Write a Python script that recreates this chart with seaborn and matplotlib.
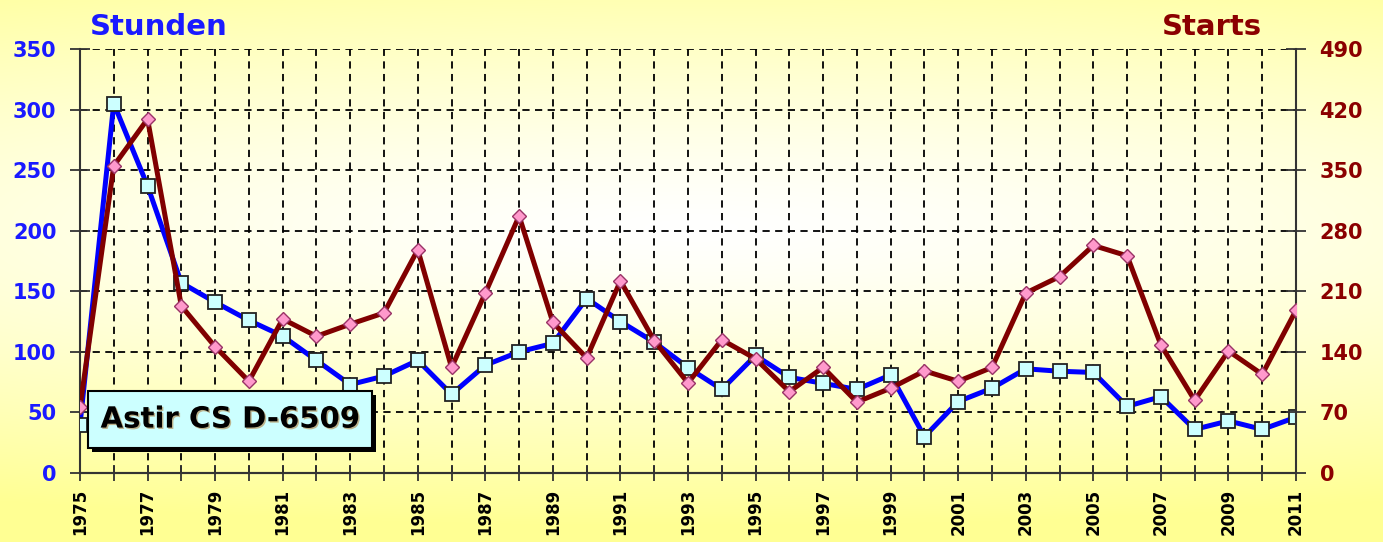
import numpy as np
import matplotlib
matplotlib.use("Agg")
import matplotlib.pyplot as plt
from matplotlib.patches import Rectangle
import matplotlib.patheffects as pe
import seaborn as sns

# Flight statistics per year
years = list(range(1975, 2012))
stunden = [40, 305, 237, 157, 141, 126, 113, 93, 73, 80, 93, 65, 89, 100, 107,
           144, 125, 108, 87, 69, 97, 79, 74, 69, 81, 30, 59, 70, 86, 84, 83,
           55, 63, 36, 43, 36, 46]
starts = [76, 355, 409, 193, 146, 106, 178, 158, 172, 185, 258, 122, 208, 297,
          174, 133, 222, 153, 104, 154, 132, 94, 122, 82, 98, 118, 106, 122,
          208, 227, 263, 251, 148, 84, 141, 114, 188]
left_ticks = [0, 50, 100, 150, 200, 250, 300, 350]
right_ticks = [0, 70, 140, 210, 280, 350, 420, 490]

sns.set_style("ticks")
plt.rcParams["font.family"] = ["DejaVu Sans"]
plt.rcParams["font.weight"] = "bold"

W, H = 1383, 542
fig = plt.figure(figsize=(W / 100, H / 100), dpi=100)

# soft yellow background fading to white around the upper middle
bg = fig.add_axes([0, 0, 1, 1], zorder=-10)
gy, gx = np.mgrid[0:1:300j, 0:1:600j]
t = np.sqrt(((gx - 0.5) / 1.25) ** 2 + ((gy - 0.42) / 0.55) ** 2)
t = np.clip(t, 0, 1) ** 1.3
white = np.array([1.0, 1.0, 1.0])
yellow = np.array([1.0, 1.0, 0.58])
img = white[None, None, :] * (1 - t[..., None]) + yellow[None, None, :] * t[..., None]
bg.imshow(img, aspect="auto", extent=[0, 1, 0, 1], origin="upper")
bg.axis("off")

left, right = 80 / W, 1296 / W
bottom, top = 1 - 473 / H, 1 - 49 / H
ax = fig.add_axes([left, bottom, right - left, top - bottom])
ax.set_facecolor("none")
ax2 = ax.twinx()
ax2.set_facecolor("none")

blue = "#0000FF"
darkred = "#800000"

sns.lineplot(x=years, y=stunden, ax=ax, color=blue, lw=3.6, marker="s",
             markersize=10, markerfacecolor="#CCFFFF", markeredgecolor="#222222",
             markeredgewidth=1.3, zorder=3)
sns.lineplot(x=years, y=starts, ax=ax2, color=darkred, lw=3.6, marker="D",
             markersize=7, markerfacecolor="#FF99CC", markeredgecolor="#993366",
             markeredgewidth=1.0, zorder=3)

ax.set_xlim(1975, 2011)
ax.set_ylim(0, 350)
ax2.set_ylim(0, 490)
ax.set_xlabel("")
ax.set_ylabel("")
ax2.set_ylabel("")

ax.set_xticks(years)
ax.set_xticklabels([str(y) if i % 2 == 0 else "" for i, y in enumerate(years)],
                   rotation=90, fontsize=12, fontweight="bold", color="black")
ax.set_yticks(left_ticks)
ax.set_yticklabels([str(v) for v in left_ticks], fontsize=15,
                   fontweight="bold", color="#1a1aff")
ax2.set_yticks(right_ticks)
ax2.set_yticklabels([str(v) for v in right_ticks], fontsize=15,
                    fontweight="bold", color="#8B0000")

spine_col = "#333333"
for a in (ax, ax2):
    for s in ("left", "right", "bottom"):
        a.spines[s].set_color(spine_col)
        a.spines[s].set_linewidth(1.5)
    a.spines["top"].set_visible(False)
ax2.spines["left"].set_visible(False)
ax.spines["right"].set_visible(False)

ax.tick_params(axis="x", direction="inout", length=11, width=1.3,
               color=spine_col, pad=6)
ax.tick_params(axis="y", direction="inout", length=14, width=1.3,
               color=spine_col, pad=10)
ax2.tick_params(axis="y", direction="inout", length=14, width=1.3,
                color=spine_col, pad=10)

ax.grid(True, which="major", axis="both", color="black", lw=1.3,
        linestyle=(0, (4, 3)))
ax.set_axisbelow(True)
ax2.grid(False)

# name plate in the lower left corner
bx, by, bw, bh = 0.0066, 0.059, 0.2336, 0.134
ax2.add_patch(Rectangle((bx + 0.0035, by - 0.0095), bw, bh, transform=ax2.transAxes,
                        facecolor="black", edgecolor="none", zorder=8))
ax2.add_patch(Rectangle((bx, by), bw, bh, transform=ax2.transAxes,
                        facecolor="#CCFFFF", edgecolor="black", lw=1.5, zorder=9))
ax2.text(bx + bw / 2, by + bh / 2, "Astir CS D-6509", transform=ax2.transAxes,
         ha="center", va="center", fontsize=21, fontweight="bold",
         color="black", zorder=10,
         path_effects=[pe.withSimplePatchShadow(offset=(1, -1), shadow_rgbFace="#b08040",
                                                alpha=0.6)])

fig.text(90 / W, 1 - 27 / H, "Stunden", ha="left", va="center",
         fontsize=21, fontweight="bold", color="#1a1aff")
fig.text(1262 / W, 1 - 27 / H, "Starts", ha="right", va="center",
         fontsize=21, fontweight="bold", color="#8B0000")

fig.savefig("out.png", dpi=100)
